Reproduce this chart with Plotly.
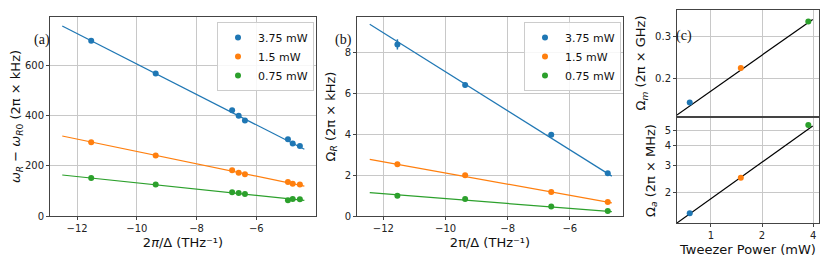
import plotly.graph_objects as go

# page body has an 8px margin; the figure is sized/placed to compensate
OFF = 8
W, H = 830 - OFF, 265 - OFF

# ---------------- data ----------------
series_names = ["3.75 mW", "1.5 mW", "0.75 mW"]
series_colors = ["#1f77b4", "#ff7f0e", "#2ca02c"]

# panel (a): omega_R - omega_R0 vs 2pi/Delta
a_x = [-11.53, -9.37, -6.81, -6.59, -6.38, -4.94, -4.78, -4.54]
a_blue = [697, 566, 420, 398, 380, 305, 288, 278]
a_orange = [293, 240, 182, 172, 166, 135, 128, 125]
a_green = [151, 125, 94, 91, 87, 63, 68, 67]
a_blue_err = [6, 5, 7, 5, 5, 6, 5, 5]
a_orange_err = [5, 4, 5, 4, 4, 5, 4, 4]
a_green_err = [4, 4, 5, 4, 4, 5, 4, 4]
a_fit_x = [-12.5, -4.39]
a_fit_blue = [755, 265]
a_fit_orange = [318, 119]
a_fit_green = [163, 62]

# panel (b): Omega_R vs 2pi/Delta
b_x = [-11.55, -9.37, -6.60, -4.78]
b_blue = [8.39, 6.40, 3.97, 2.09]
b_orange = [2.53, 1.99, 1.17, 0.68]
b_green = [0.99, 0.83, 0.47, 0.24]
b_blue_err = [0.25, 0.12, 0.10, 0.08]
b_orange_err = [0.07, 0.05, 0.05, 0.04]
b_green_err = [0.05, 0.04, 0.03, 0.03]
b_fit_x = [-12.44, -4.65]
b_fit_blue = [9.38, 1.95]
b_fit_orange = [2.77, 0.64]
b_fit_green = [1.14, 0.21]

# panel (c): Omega_m, Omega_a vs tweezer power
c_power = [0.75, 1.5, 3.75]
c_omega_m = [0.158, 0.221, 0.348]
c_omega_a = [1.47, 2.49, 5.46]
c_fit_power = [0.63, 3.98]
c_fit_m = [0.140, 0.355]
c_fit_a = [1.27, 5.38]

# ---------------- figure ----------------
fig = go.Figure()

FONT = "DejaVu Sans"
AXC = "#444444"
GRID = "#c8c8c8"
MS = 6
LW = 1.2


def add_panel(x, ys, errs, fx, fys, xa, ya, legend):
    for col, fy in zip(series_colors, fys):
        fig.add_trace(go.Scatter(
            x=fx, y=fy, mode="lines", line=dict(color=col, width=LW),
            xaxis=xa, yaxis=ya, showlegend=False, hoverinfo="skip"))
    for name, col, y, e in zip(series_names, series_colors, ys, errs):
        fig.add_trace(go.Scatter(
            x=x, y=y, mode="markers", name=name,
            marker=dict(color=col, size=MS),
            error_y=dict(type="data", array=e, color=col, thickness=1.5, width=0),
            xaxis=xa, yaxis=ya, legend=legend))


add_panel(a_x, [a_blue, a_orange, a_green], [a_blue_err, a_orange_err, a_green_err],
          a_fit_x, [a_fit_blue, a_fit_orange, a_fit_green], "x", "y", "legend")
add_panel(b_x, [b_blue, b_orange, b_green], [b_blue_err, b_orange_err, b_green_err],
          b_fit_x, [b_fit_blue, b_fit_orange, b_fit_green], "x2", "y2", "legend2")

# panel (c) top (Omega_m) -> x4/y4 ; bottom (Omega_a) -> x3/y3
fig.add_trace(go.Scatter(x=c_fit_power, y=c_fit_m, mode="lines",
                         line=dict(color="black", width=LW), xaxis="x4", yaxis="y4",
                         showlegend=False))
fig.add_trace(go.Scatter(x=c_fit_power, y=c_fit_a, mode="lines",
                         line=dict(color="black", width=LW), xaxis="x3", yaxis="y3",
                         showlegend=False))
for i, col in enumerate(series_colors):
    fig.add_trace(go.Scatter(x=[c_power[i]], y=[c_omega_m[i]], mode="markers",
                             marker=dict(color=col, size=MS), xaxis="x4", yaxis="y4",
                             showlegend=False))
    fig.add_trace(go.Scatter(x=[c_power[i]], y=[c_omega_a[i]], mode="markers",
                             marker=dict(color=col, size=MS), xaxis="x3", yaxis="y3",
                             showlegend=False))


def px_x(p0, p1):
    return [(p0 - OFF) / W, (p1 - OFF) / W]


def px_y(top, bottom):
    return [1 - (bottom - OFF) / H, 1 - (top - OFF) / H]


def ppx(p):
    return (p - OFF) / W


def ppy(p):
    return 1 - (p - OFF) / H


tickfont = dict(family=FONT, size=10, color="#222")
titlefont = dict(family=FONT, size=13, color="#111")

common = dict(showline=True, mirror=True, linecolor=AXC, linewidth=1,
              showgrid=True, gridcolor=GRID, gridwidth=1, zeroline=False,
              ticks="outside", ticklen=3, tickcolor=AXC, tickfont=tickfont,
              automargin=False)

lin_x_ticks = dict(tickvals=[-12, -10, -8, -6], ticktext=["\u221212", "\u221210", "\u22128", "\u22126"])
xtitle_a = "2<i>\u03c0</i>/\u0394 (THz\u207b\u00b9)"
xtitle_b = "2\u03c0/\u0394 (THz\u207b\u00b9)"

legend_common = dict(xanchor="right", yanchor="top",
                     bgcolor="rgba(255,255,255,0.85)", bordercolor="#cccccc", borderwidth=1,
                     font=dict(family=FONT, size=11, color="#111"), itemwidth=30,
                     tracegroupgap=0)

fig.update_layout(
    width=W, height=H, autosize=False,
    margin=dict(l=0, r=0, t=0, b=0),
    paper_bgcolor="white", plot_bgcolor="white",
    font=dict(family=FONT, color="#111"),
    xaxis=dict(domain=px_x(50, 316), range=[-12.91, -4.0], anchor="y",
               title=dict(text=xtitle_a, font=titlefont, standoff=4), **lin_x_ticks, **common),
    yaxis=dict(domain=px_y(17, 216), range=[0, 791], anchor="x",
               tickvals=[0, 200, 400, 600],
               title=dict(text="<i>\u03c9</i><sub><i>R</i></sub> \u2212 <i>\u03c9</i><sub><i>R</i>0</sub> (2\u03c0 \u00d7 kHz)",
                          font=titlefont, standoff=6), **common),
    xaxis2=dict(domain=px_x(357, 623), range=[-12.85, -4.29], anchor="y2",
                title=dict(text=xtitle_b, font=titlefont, standoff=4), **lin_x_ticks, **common),
    yaxis2=dict(domain=px_y(17, 216), range=[0, 9.73], anchor="x2",
                tickvals=[0, 2, 4, 6, 8],
                title=dict(text="\u03a9<sub><i>R</i></sub> (2\u03c0 \u00d7 kHz)", font=titlefont, standoff=6),
                **common),
    xaxis3=dict(domain=px_x(677, 819), type="log", range=[-0.2, 0.637], anchor="y3",
                tickvals=[1, 2, 4], ticktext=["1", "2", "4"],
                title=dict(text="Tweezer Power (mW)", font=titlefont, standoff=4), **common),
    yaxis3=dict(domain=px_y(118, 223), type="log", range=[0.104, 0.782], anchor="x3",
                tickvals=[2, 3, 4, 5], ticktext=["2", "3", "4", "5"],
                title=dict(text="\u03a9<sub><i>a</i></sub> (2\u03c0 \u00d7 MHz)", font=titlefont, standoff=6),
                **common),
    xaxis4=dict(domain=px_x(677, 819), type="log", range=[-0.2, 0.637], anchor="y4",
                matches="x3", tickvals=[1, 2, 4], showticklabels=False,
                **{k: v for k, v in common.items() if k != "ticks"}, ticks=""),
    yaxis4=dict(domain=px_y(10, 116), type="log", range=[-0.858, -0.410], anchor="x4",
                tickvals=[0.2, 0.3], ticktext=["0.2", "0.3"],
                title=dict(text="\u03a9<sub><i>m</i></sub> (2\u03c0 \u00d7 GHz)", font=titlefont, standoff=6),
                **common),
    legend=dict(x=ppx(314), y=ppy(22), **legend_common),
    legend2=dict(x=ppx(621), y=ppy(22), **legend_common),
    annotations=[
        dict(text="(a)", x=ppx(32), y=ppy(30), xref="paper", yref="paper",
             showarrow=False, font=dict(family="Liberation Serif", size=14, color="#111")),
        dict(text="(b)", x=ppx(343), y=ppy(30), xref="paper", yref="paper",
             showarrow=False, font=dict(family="Liberation Serif", size=14, color="#111")),
        dict(text="(c)", x=ppx(694), y=ppy(26), xref="paper", yref="paper",
             showarrow=False, font=dict(family="Liberation Serif", size=14, color="#111")),
    ],
)

fig.write_html("out.html")
